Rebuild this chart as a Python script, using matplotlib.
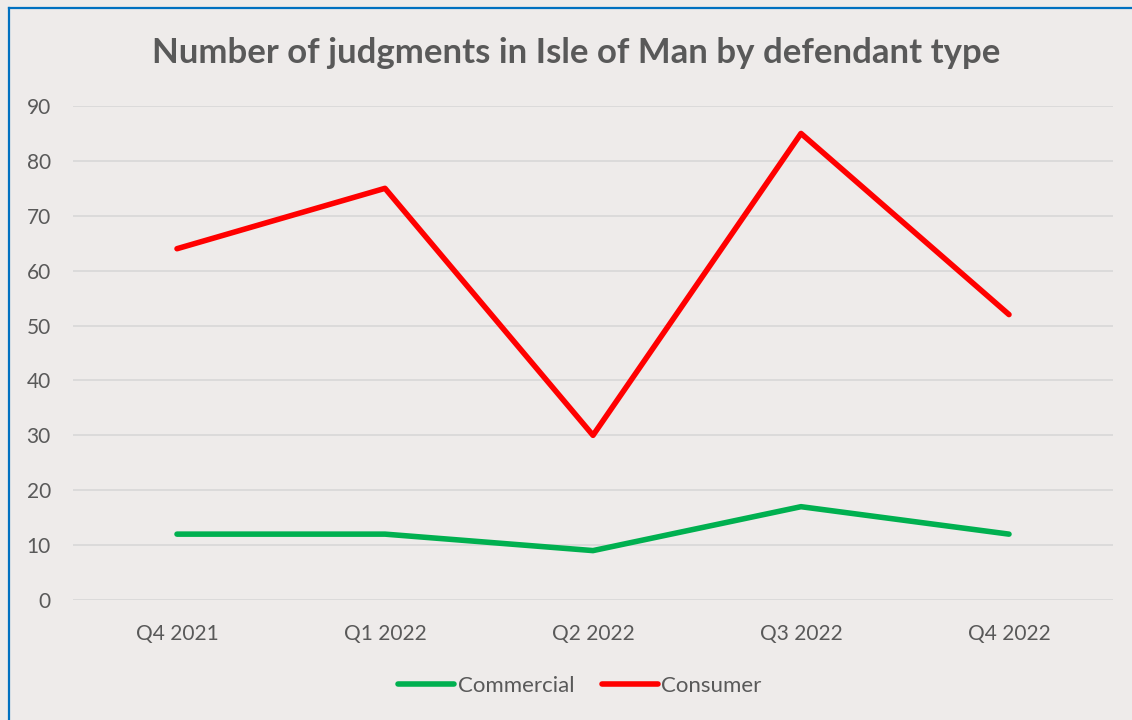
import matplotlib
matplotlib.use("Agg")
import matplotlib.pyplot as plt
from matplotlib.lines import Line2D

quarters = ["Q4 2021", "Q1 2022", "Q2 2022", "Q3 2022", "Q4 2022"]
commercial = [12, 12, 9, 17, 12]
consumer = [64, 75, 30, 85, 52]
title = "Number of judgments in Isle of Man by defendant type"

bg = "#EEEBEA"
txt = "#595959"
plt.rcParams['font.family'] = ['Lato', 'DejaVu Sans']

fig = plt.figure(figsize=(11.32, 7.2), dpi=100, facecolor=bg)
ax = fig.add_axes([73/1132, 1-600/720, 1040/1132, 494/720])
ax.set_facecolor(bg)

x = list(range(len(quarters)))
ax.plot(x, commercial, color="#00B050", lw=4, solid_capstyle="round", label="Commercial", zorder=3)
ax.plot(x, consumer, color="#FF0000", lw=4, solid_capstyle="round", label="Consumer", zorder=3)

ax.set_xlim(-0.5, len(quarters)-0.5)
ax.set_ylim(0, 90)
ax.set_yticks(range(0, 91, 10))
ax.set_xticks(x)
ax.set_xticklabels(quarters)
ax.grid(axis="y", color="#D9D9D9", lw=1.3)
ax.set_axisbelow(True)
for s in ax.spines.values():
    s.set_visible(False)
ax.tick_params(axis="both", length=0, colors=txt, labelsize=15)
ax.tick_params(axis="y", pad=16)
ax.tick_params(axis="x", pad=17)

fig.text(576/1132, 1-53/720, title, ha="center", va="center", fontsize=25,
         fontweight="bold", color=txt)

leg = fig.legend(loc="center", bbox_to_anchor=(580/1132, 1-686/720), ncol=2, frameon=False,
                 fontsize=16, handlelength=2.52, handletextpad=0.14, columnspacing=1.26,
                 labelcolor=txt)
for h in leg.get_lines():
    h.set_linewidth(4)
    h.set_solid_capstyle("round")

fig.add_artist(Line2D([8.5/1132, 1.01], [1-7.5/720, 1-7.5/720], transform=fig.transFigure,
                      color="#0070C0", lw=1.6))
fig.add_artist(Line2D([8.5/1132, 8.5/1132], [-0.01, 1-7.5/720], transform=fig.transFigure,
                      color="#0070C0", lw=1.6))

fig.savefig("out.png", dpi=100, facecolor=bg)
